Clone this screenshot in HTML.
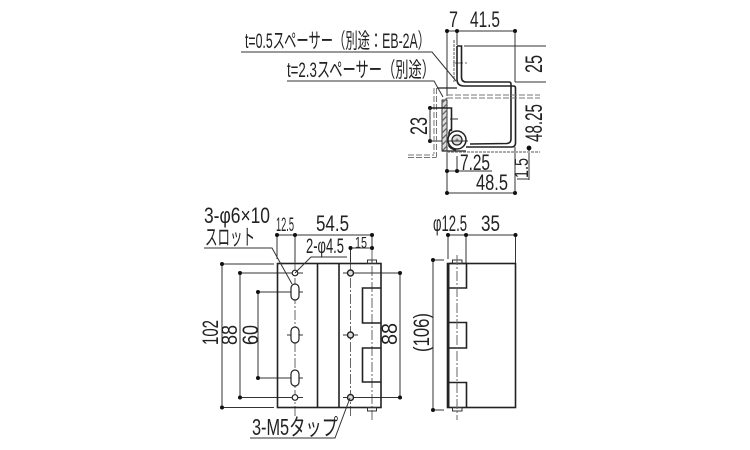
<!DOCTYPE html>
<html>
<head>
<meta charset="utf-8">
<style>
html,body{margin:0;padding:0;background:#fff;width:750px;height:450px;overflow:hidden}
svg{display:block}
text{font-family:"Liberation Sans","Noto Sans CJK JP",sans-serif;fill:#222;font-size:22px}
.t{font-size:21px}
.s{font-size:19px}
.xs{font-size:16px}
.l{font-size:24px}
.thin{stroke:#333;stroke-width:1;fill:none}
.obj{stroke:#222;stroke-width:1.6;fill:none}
.mid{stroke:#222;stroke-width:1.2;fill:none}
.ctr{stroke:#666;stroke-width:1;fill:none;stroke-dasharray:10 2 2 2}
.dash{stroke:#777;stroke-width:1;fill:none;stroke-dasharray:6 2}
circle.d{fill:#111;stroke:none}
</style>
</head>
<body>
<svg width="750" height="450" viewBox="0 0 750 450" xmlns="http://www.w3.org/2000/svg">
<!-- TOP SECTION -->
<path class="thin" d="M447 31H515M447 31V96M457 31V45M515 31V82M464 46H546M515 82H546M447 152V193M457 156V171M447 171H492M447 193H515M515 147V193M529 148V180M517 179H529"/>
<circle class="d" cx="447" cy="31" r="2"/><circle class="d" cx="457" cy="31" r="2"/><circle class="d" cx="515" cy="31" r="2"/>
<circle class="d" cx="447" cy="171" r="2"/><circle class="d" cx="457" cy="171" r="2"/>
<circle class="d" cx="447" cy="193" r="2"/><circle class="d" cx="515" cy="193" r="2"/>
<circle class="d" cx="529" cy="148" r="2.4"/>
<circle class="d" cx="430" cy="108" r="2"/><circle class="d" cx="430" cy="141" r="2"/>
<path class="thin" d="M430 108V141M430 141H457"/>
<path class="dash" d="M454 40V82" style="stroke:#999;stroke-width:1.6;stroke-dasharray:3 1"/>
<path class="ctr" d="M453 63H468"/>
<path class="obj" d="M457 46H461.5V77Q461.5 82 466 82H509Q511 82 511 84V139Q511 143 507 143.500L470 144"/>
<path class="obj" d="M457 46V79Q457 86 464 86H513.500Q515.500 86 515.500 88V143Q515.500 147 511.500 147H466"/>
<path class="dash" d="M447 95H540M447 98H540"/>
<path class="dash" d="M434 88V154M436.500 88V157M408 155H434M408 157.500H436.500" />
<path class="mid" d="M437 88H457"/>
<rect x="442" y="100" width="5" height="51" fill="#ddd" stroke="#333" stroke-width="1"/>
<path d="M442 103L447 98M442 109L447 104M442 115L447 110M442 121L447 116M442 127L447 122M442 133L447 128M442 139L447 134M442 145L447 140M442 151L447 146" stroke="#666" stroke-width="1.300"/>
<path class="dash" d="M447 152H540" style="stroke-width:2;stroke:#aaa;stroke-dasharray:3 1"/>
<path class="obj" d="M430 108H451.500V131Q450 128 449 133V146Q451 149 456 150"/>
<path class="mid" d="M442 151H466"/>
<circle cx="457" cy="140" r="9" fill="#fff" stroke="#222" stroke-width="1.500"/>
<circle cx="457" cy="140" r="5" fill="#ddd" stroke="#222" stroke-width="1.300"/>
<circle cx="457" cy="140" r="1.500" fill="#888"/>
<path class="thin" d="M450 119H458M448 141H468"/>
<path class="thin" d="M241 52H432L456 81M287 81H434L443 97"/>
<text x="245" y="48" textLength="185" lengthAdjust="spacingAndGlyphs" class="t">t=0.5スペーサー（別途：EB-2A）</text>
<text x="287" y="77" textLength="148" lengthAdjust="spacingAndGlyphs" class="t">t=2.3スペーサー（別途）</text>
<text x="449" y="27" textLength="9" lengthAdjust="spacingAndGlyphs">7</text>
<text x="470" y="27" textLength="30" lengthAdjust="spacingAndGlyphs">41.5</text>
<text transform="translate(542,73) rotate(-90)" textLength="18" lengthAdjust="spacingAndGlyphs" class="l">25</text>
<text transform="translate(542,142) rotate(-90)" textLength="38" lengthAdjust="spacingAndGlyphs" class="l">48.25</text>
<text transform="translate(427,135) rotate(-90)" textLength="18" lengthAdjust="spacingAndGlyphs" class="l">23</text>
<text transform="translate(528,178) rotate(-90)" textLength="20" lengthAdjust="spacingAndGlyphs" class="s">1.5</text>
<text x="460" y="170" textLength="30" lengthAdjust="spacingAndGlyphs">7.25</text>
<text x="476" y="190" textLength="32" lengthAdjust="spacingAndGlyphs">48.5</text>

<!-- FRONT VIEW -->
<path class="thin" d="M277 235H372M277 235V259M295 235V262M372 235V262M350.500 248H372M350.500 248V262"/>
<path class="ctr" d="M295 262V416M350.500 262V416M372 250V420"/>
<path class="thin" d="M222 264V407.500M222 264H274M222 407.500H274M240 273V397.500M240 273H303M240 397.500H303M258 292V378M258 292H303M258 378H303M400 273V397.500M343 273H400M343 397.500H400M287 335H303M343 335H358"/>
<circle class="d" cx="277" cy="235" r="2"/><circle class="d" cx="295" cy="235" r="2"/><circle class="d" cx="372" cy="235" r="2"/>
<circle class="d" cx="350.500" cy="248" r="2"/><circle class="d" cx="372" cy="248" r="2"/>
<circle class="d" cx="222" cy="264" r="2"/><circle class="d" cx="222" cy="407.500" r="2"/>
<circle class="d" cx="240" cy="273" r="2"/><circle class="d" cx="240" cy="397.500" r="2"/>
<circle class="d" cx="258" cy="292" r="2"/><circle class="d" cx="258" cy="378" r="2"/>
<circle class="d" cx="400" cy="273" r="2"/><circle class="d" cx="400" cy="397.500" r="2"/>
<rect x="277.500" y="263.500" width="103.500" height="144" class="obj"/>
<path class="obj" d="M317.500 264V407M339 264V407"/>
<rect x="367.500" y="260" width="9" height="3.500" class="thin"/>
<rect x="367.500" y="407.500" width="9" height="3.500" class="thin"/>
<path class="obj" d="M381 288H362.500V323H381M381 348H362.500V382H381"/>
<g fill="#fff" stroke="#222" stroke-width="1.200">
<rect x="291" y="284" width="8" height="16" rx="4"/>
<rect x="291" y="327" width="8" height="16" rx="4"/>
<rect x="291" y="370" width="8" height="16" rx="4"/>
<circle cx="295" cy="273" r="2.800"/>
<circle cx="295" cy="397.500" r="2.800"/>
</g>
<g fill="#ddd" stroke="#222" stroke-width="1.400">
<circle cx="350.500" cy="273" r="3"/>
<circle cx="350.500" cy="335" r="3"/>
<circle cx="350.500" cy="397.500" r="3"/>
</g>
<path class="thin" d="M204 248H272L292 284M347 257H311L295 273M250 438H335L350 398"/>
<text x="204" y="223" textLength="66" lengthAdjust="spacingAndGlyphs">3-φ6×10</text>
<text x="205" y="245" textLength="50" lengthAdjust="spacingAndGlyphs">スロット</text>
<text x="276" y="231" textLength="18" lengthAdjust="spacingAndGlyphs" class="s">12.5</text>
<text x="316" y="231" textLength="33" lengthAdjust="spacingAndGlyphs">54.5</text>
<text x="306" y="253" textLength="38" lengthAdjust="spacingAndGlyphs" class="t">2-φ4.5</text>
<text x="355" y="248" textLength="12" lengthAdjust="spacingAndGlyphs" class="xs">15</text>
<text x="252" y="435" textLength="86" lengthAdjust="spacingAndGlyphs" style="font-size:23px">3-M5タップ</text>
<text transform="translate(218,345) rotate(-90)" textLength="25" lengthAdjust="spacingAndGlyphs">102</text>
<text transform="translate(237,345) rotate(-90)" textLength="20" lengthAdjust="spacingAndGlyphs">88</text>
<text transform="translate(258,345) rotate(-90)" textLength="20" lengthAdjust="spacingAndGlyphs">60</text>
<text transform="translate(397,345) rotate(-90)" textLength="22" lengthAdjust="spacingAndGlyphs">88</text>

<!-- SIDE VIEW -->
<path class="thin" d="M448 235H515.500M448 235V259M466 235V263M515.500 235V263M433 260V410M433 260H444M433 410H444"/>
<circle class="d" cx="448" cy="235" r="2"/><circle class="d" cx="466" cy="235" r="2"/><circle class="d" cx="515.500" cy="235" r="2"/>
<circle class="d" cx="433" cy="260" r="2"/><circle class="d" cx="433" cy="410" r="2"/>
<rect x="447.500" y="263.500" width="68" height="144" class="obj"/>
<rect x="447" y="263" width="2.500" height="145" fill="#222"/>
<path class="obj" d="M449 263.500H466.500V288H449M449 322.500H466.500V348H449M449 382.500H466.500V407.500"/>
<rect x="452.500" y="260" width="9.500" height="3.500" class="thin"/>
<rect x="452.500" y="407.500" width="9.500" height="3.500" class="thin"/>
<path class="ctr" d="M457 255V420"/>
<text x="433" y="231" textLength="34" lengthAdjust="spacingAndGlyphs">φ12.5</text>
<text x="481" y="231" textLength="19" lengthAdjust="spacingAndGlyphs">35</text>
<text transform="translate(429,352) rotate(-90)" textLength="39" lengthAdjust="spacingAndGlyphs" style="font-size:22px">(106)</text>
</svg>
</body>
</html>
